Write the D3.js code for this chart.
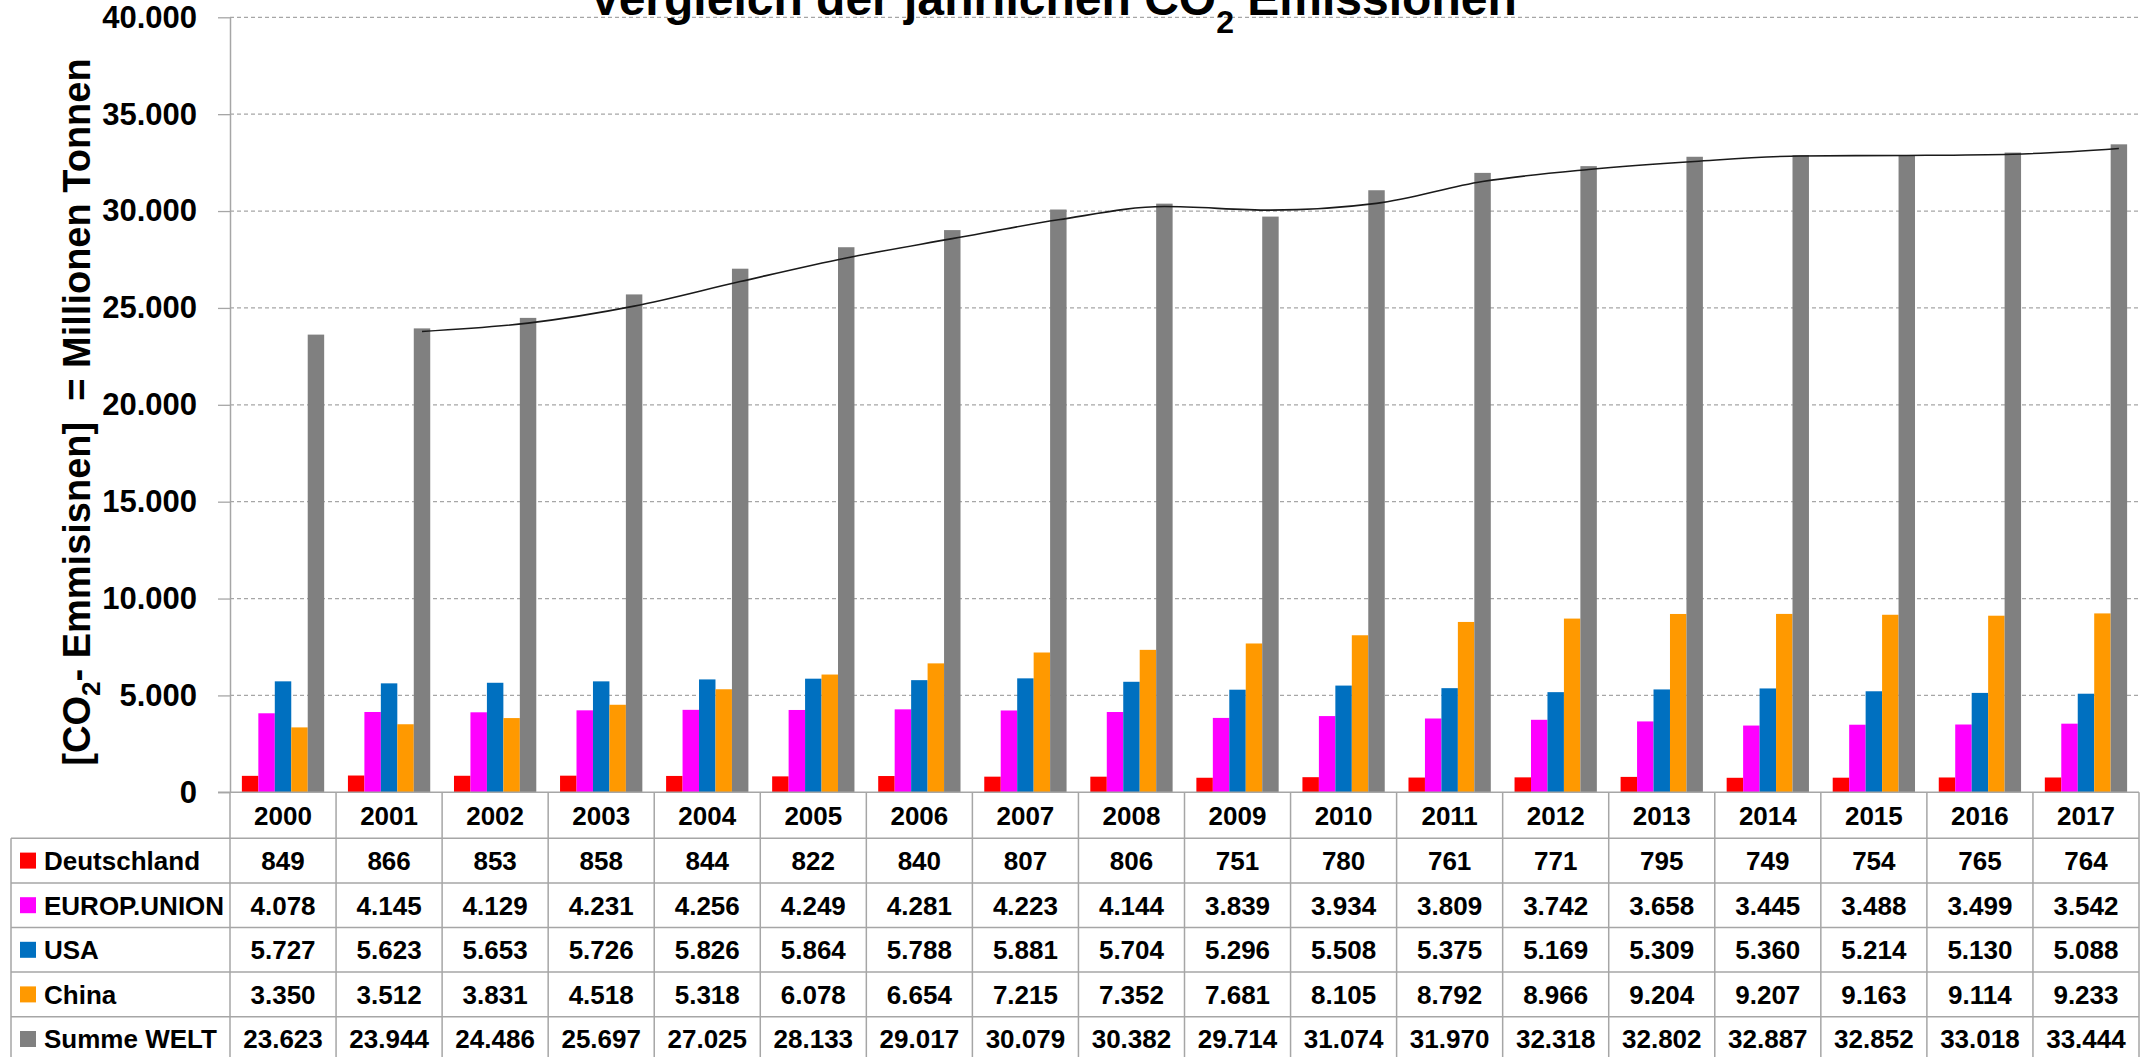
<!DOCTYPE html>
<html>
<head>
<meta charset="utf-8">
<script src="https://cdn.jsdelivr.net/npm/d3@7"></script>
<style>
  body { margin: 0; background: #fff; }
  svg { display: block; }
  text { font-family: "Liberation Sans", Arial, sans-serif; font-weight: bold; fill: #000; }
</style>
</head>
<body>
<div id="chart"></div>
<script>
var years = [2000, 2001, 2002, 2003, 2004, 2005, 2006, 2007, 2008, 2009, 2010, 2011, 2012, 2013, 2014, 2015, 2016, 2017];
var seriesNames = ["Deutschland", "EUROP.UNION", "USA", "China", "Summe WELT"];

var deutschland = [849, 866, 853, 858, 844, 822, 840, 807, 806, 751, 780, 761, 771, 795, 749, 754, 765, 764];
var europUnion = [4078, 4145, 4129, 4231, 4256, 4249, 4281, 4223, 4144, 3839, 3934, 3809, 3742, 3658, 3445, 3488, 3499, 3542];
var usa = [5727, 5623, 5653, 5726, 5826, 5864, 5788, 5881, 5704, 5296, 5508, 5375, 5169, 5309, 5360, 5214, 5130, 5088];
var china = [3350, 3512, 3831, 4518, 5318, 6078, 6654, 7215, 7352, 7681, 8105, 8792, 8966, 9204, 9207, 9163, 9114, 9233];
var summeWelt = [23623, 23944, 24486, 25697, 27025, 28133, 29017, 30079, 30382, 29714, 31074, 31970, 32318, 32802, 32887, 32852, 33018, 33444];

// trend line over "Summe WELT" (2-period moving average, starts 2001)
var trendWelt = [null, 23784, 24215, 25092, 26361, 27579, 28575, 29548, 30231, 30048, 30394, 31522, 32144, 32560, 32845, 32870, 32935, 33231];

var yTicks = [0, 5000, 10000, 15000, 20000, 25000, 30000, 35000, 40000];
var colors = ["#ff0000", "#ff00ff", "#0070c0", "#ff9900", "#808080"];

var width = 2140,
    height = 1057;

var plot = { left: 230, right: 2139, top: 17.3, bottom: 792.3 };
var rowTop = 838.3,
    rowH = 44.6,
    tableLeft = 11,
    gridColor = "#a6a6a6";

var series = [deutschland, europUnion, usa, china, summeWelt];

var de = d3.formatLocale({ decimal: ",", thousands: ".", grouping: [3], currency: ["", " €"] });
var fmt = de.format(",d");

var svg = d3.select("#chart").append("svg")
  .attr("width", width)
  .attr("height", height)
  .attr("viewBox", "0 0 " + width + " " + height);

var x = d3.scaleBand()
  .domain(years)
  .range([plot.left, plot.right])
  .padding(0);

var bw = x.bandwidth();
var xs = d3.scaleBand()
  .domain(seriesNames)
  .range([bw * 0.112, bw * 0.888])
  .padding(0);

var y = d3.scaleLinear()
  .domain([0, 40000])
  .range([plot.bottom, plot.top]);

// gridlines
svg.append("g")
  .selectAll("line")
  .data(yTicks.filter(function(d) { return d > 0; }))
  .enter().append("line")
  .attr("x1", plot.left)
  .attr("x2", width)
  .attr("y1", function(d) { return y(d); })
  .attr("y2", function(d) { return y(d); })
  .attr("stroke", gridColor)
  .attr("stroke-width", 1.3)
  .attr("stroke-dasharray", "4,3");

// y axis
var yAxis = d3.axisLeft(y)
  .tickValues(yTicks)
  .tickSizeInner(12)
  .tickSizeOuter(0)
  .tickPadding(21)
  .tickFormat(fmt);

var gy = svg.append("g")
  .attr("transform", "translate(" + plot.left + ",0)")
  .call(yAxis);
gy.select(".domain").attr("stroke", gridColor).attr("stroke-width", 1.5);
gy.selectAll(".tick line").attr("stroke", gridColor).attr("stroke-width", 1.3);
gy.selectAll(".tick text")
  .attr("fill", "#000")
  .style("font-size", "31px")
  .style("font-family", "'Liberation Sans', Arial, sans-serif")
  .style("font-weight", "bold");

// bars
var groups = svg.append("g")
  .selectAll("g")
  .data(years)
  .enter().append("g")
  .attr("transform", function(d) { return "translate(" + x(d) + ",0)"; });

groups.selectAll("rect")
  .data(function(d, i) {
    return series.map(function(s, k) { return { name: seriesNames[k], value: s[i], color: colors[k] }; });
  })
  .enter().append("rect")
  .attr("x", function(d) { return xs(d.name); })
  .attr("width", xs.bandwidth())
  .attr("y", function(d) { return y(d.value); })
  .attr("height", function(d) { return y(0) - y(d.value); })
  .attr("fill", function(d) { return d.color; });

// trend line
var line = d3.line()
  .defined(function(d) { return d != null; })
  .x(function(d, i) { return x(years[i]) + xs("Summe WELT") + xs.bandwidth() / 2; })
  .y(function(d) { return y(d); })
  .curve(d3.curveMonotoneX);

svg.append("path")
  .datum(trendWelt)
  .attr("d", line)
  .attr("fill", "none")
  .attr("stroke", "#1a1a1a")
  .attr("stroke-width", 1.6);

// zero line
svg.append("line")
  .attr("x1", plot.left - 12).attr("x2", plot.right)
  .attr("y1", y(0)).attr("y2", y(0))
  .attr("stroke", gridColor).attr("stroke-width", 1.5);

// data table
var table = svg.append("g");
var tableBottom = height + 5;

table.selectAll("line.h")
  .data(d3.range(seriesNames.length))
  .enter().append("line")
  .attr("x1", tableLeft).attr("x2", plot.right)
  .attr("y1", function(i) { return rowTop + i * rowH; })
  .attr("y2", function(i) { return rowTop + i * rowH; })
  .attr("stroke", gridColor).attr("stroke-width", 1.5);

table.selectAll("line.v")
  .data(years.concat(["end"]))
  .enter().append("line")
  .attr("x1", function(d, i) { return plot.left + i * bw; })
  .attr("x2", function(d, i) { return plot.left + i * bw; })
  .attr("y1", y(0)).attr("y2", tableBottom)
  .attr("stroke", gridColor).attr("stroke-width", 1.5);

table.append("line")
  .attr("x1", tableLeft).attr("x2", tableLeft)
  .attr("y1", rowTop).attr("y2", tableBottom)
  .attr("stroke", gridColor).attr("stroke-width", 1.5);

table.selectAll("text.year")
  .data(years)
  .enter().append("text")
  .attr("x", function(d) { return x(d) + bw / 2; })
  .attr("y", (y(0) + rowTop) / 2)
  .attr("dy", "0.36em")
  .attr("text-anchor", "middle")
  .style("font-size", "26px")
  .text(function(d) { return d; });

var rows = table.selectAll("g.row")
  .data(seriesNames)
  .enter().append("g")
  .attr("transform", function(d, k) { return "translate(0," + (rowTop + k * rowH + rowH / 2) + ")"; });

rows.append("rect")
  .attr("x", 20).attr("y", -8)
  .attr("width", 16).attr("height", 16)
  .attr("fill", function(d, k) { return colors[k]; });

rows.append("text")
  .attr("x", 44)
  .attr("dy", "0.36em")
  .style("font-size", "26px")
  .text(function(d) { return d; });

rows.each(function(name, k) {
  d3.select(this).selectAll("text.val")
    .data(series[k])
    .enter().append("text")
    .attr("x", function(d, i) { return x(years[i]) + bw / 2; })
    .attr("dy", "0.36em")
    .attr("text-anchor", "middle")
    .style("font-size", "26px")
    .text(function(d) { return fmt(d); });
});

// title
var title = svg.append("text")
  .attr("x", 1053)
  .attr("y", 15)
  .attr("text-anchor", "middle")
  .style("font-size", "48px");
title.append("tspan").text("Vergleich der jährlichen CO");
title.append("tspan").attr("dy", 18).style("font-size", "32px").text("2");
title.append("tspan").attr("dy", -18).text(" Emissionen");

// y axis title
var ytitle = svg.append("text")
  .attr("transform", "translate(90,412) rotate(-90)")
  .attr("text-anchor", "middle")
  .style("font-size", "38px")
  .style("white-space", "pre");
ytitle.append("tspan").text("[CO");
ytitle.append("tspan").attr("dy", 10).style("font-size", "26px").text("2");
ytitle.append("tspan").attr("dy", -10).text("- Emmisisnen]  = Millionen Tonnen");
</script>
</body>
</html>
